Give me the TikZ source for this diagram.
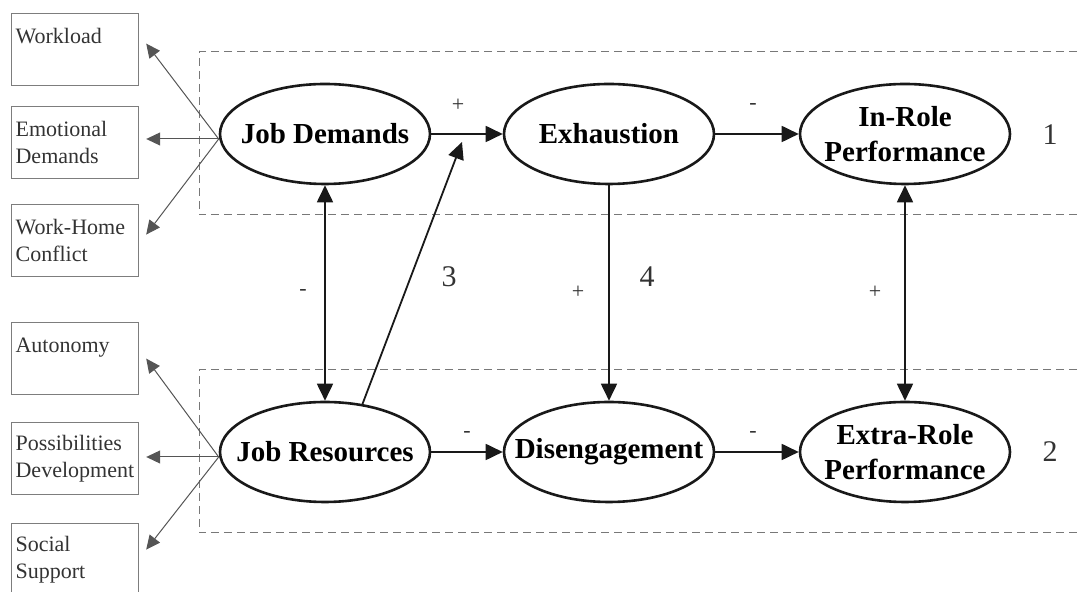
\documentclass[tikz,border=0pt]{standalone}
\usepackage{fontspec}
\setmainfont{Liberation Serif}
\usetikzlibrary{arrows.meta,shapes.geometric}
\definecolor{boxline}{RGB}{125,125,125}
\definecolor{loadline}{RGB}{85,85,85}
\definecolor{dashline}{RGB}{120,120,120}
\definecolor{inkline}{RGB}{25,25,25}
\tikzset{
  latent/.style ={draw=inkline, ellipse, line width=1.3pt, minimum width=105pt, minimum height=50pt, inner sep=0pt,
                  align=center, font=\fontsize{14.5}{17.5}\selectfont\bfseries},
  indic/.style  ={draw=boxline, line width=0.6pt, anchor=north west, minimum width=63.5pt, minimum height=36pt,
                  text width=59.5pt, inner sep=2pt, align=left, font=\fontsize{11}{13.5}\selectfont, text=black!80},
  effect/.style ={-{Triangle[length=8.5pt,width=8pt]}, line width=0.9pt, draw=inkline},
  both/.style   ={{Triangle[length=8.5pt,width=8pt]}-{Triangle[length=8.5pt,width=8pt]}, line width=0.9pt, draw=inkline},
  load/.style   ={-{Triangle[length=7pt,width=6.5pt]}, line width=0.5pt, draw=loadline},
  sgn/.style    ={font=\fontsize{11}{13}\selectfont, inner sep=1pt, text=black!80},
  num/.style    ={font=\fontsize{15}{17}\selectfont, inner sep=1pt, text=black!80},
  grp/.style    ={draw=dashline, line width=0.5pt, dash pattern=on 4pt off 2.5pt}
}
\newcommand{\ctr}[1]{\makebox[0pt]{#1}}

\begin{document}
\begin{tikzpicture}[x=0.5pt, y=-0.5pt]
  \clip (0,0) rectangle (1078,592);
  \draw[grp] (1090,52) -- (199,52) -- (199,215) -- (1090,215);
  \draw[grp] (1090,370) -- (199,370) -- (199,533) -- (1090,533);
  \node[latent] (jd)  at (325,134) {\ctr{Job Demands}};
  \node[latent] (ex)  at (609,134) {\ctr{Exhaustion}};
  \node[latent] (ir)  at (905,134) {\ctr{In-Role}\\\ctr{Performance}};
  \node[latent] (jr)  at (325,452) {\ctr{Job Resources}};
  \node[latent] (dis) at (609,452) {\ctr{Disengagement}};
  \node[latent] (er)  at (905,452) {\ctr{Extra-Role}\\\ctr{Performance}};
  \node[indic] (wl) at (11,13)  {Workload\\\mbox{}};
  \node[indic] (ed) at (11,106) {Emotional\\Demands};
  \node[indic] (wh) at (11,204) {Work-Home\\Conflict};
  \node[indic] (au) at (11,322) {Autonomy\\\mbox{}};
  \node[indic] (pd) at (11,422) {Possibilities\\Development};
  \node[indic] (ss) at (11,523) {Social\\Support};
  \coordinate (jdhub) at ([yshift=-2.5pt]jd.west);
  \coordinate (jrhub) at ([yshift=-2.5pt]jr.west);
  \coordinate (mod) at (462,142);
  \draw[load] (jdhub) -- ([xshift=3.5pt,yshift=3pt]wl.east);
  \draw[load] (jdhub) -- ([xshift=3.5pt]jdhub -| ed.east);
  \draw[load] (jdhub) -- ([xshift=3.5pt,yshift=3pt]wh.east);
  \draw[load] (jrhub) -- ([xshift=3.5pt]au.east);
  \draw[load] (jrhub) -- ([xshift=3.5pt]jrhub -| pd.east);
  \draw[load] (jrhub) -- ([xshift=3.5pt,yshift=5pt]ss.east);
  \draw[effect] (jd) -- (ex);
  \draw[effect] (ex) -- (ir);
  \draw[effect] (jr) -- (dis);
  \draw[effect] (dis) -- (er);
  \draw[effect] (ex) -- (dis);
  \draw[both] (jd) -- (jr);
  \draw[both] (ir) -- (er);
  \draw[effect] (jr.52) -- (mod);
  \node[sgn] (s1) at (458,105) {+};
  \node[sgn] (s2) at (753,107) {-};
  \node[sgn] (s3) at (467,435) {-};
  \node[sgn] (s4) at (753,435) {-};
  \node[sgn] (s5) at (303,293) {-};
  \node[sgn] (s6) at (578,292) {+};
  \node[sgn] (s7) at (875,292) {+};
  \node[num] (n3) at (449,277) {3};
  \node[num] (n4) at (647,277) {4};
  \node[num] (n1) at (1050,135) {1};
  \node[num] (n2) at (1050,452) {2};
\end{tikzpicture}
\end{document}
